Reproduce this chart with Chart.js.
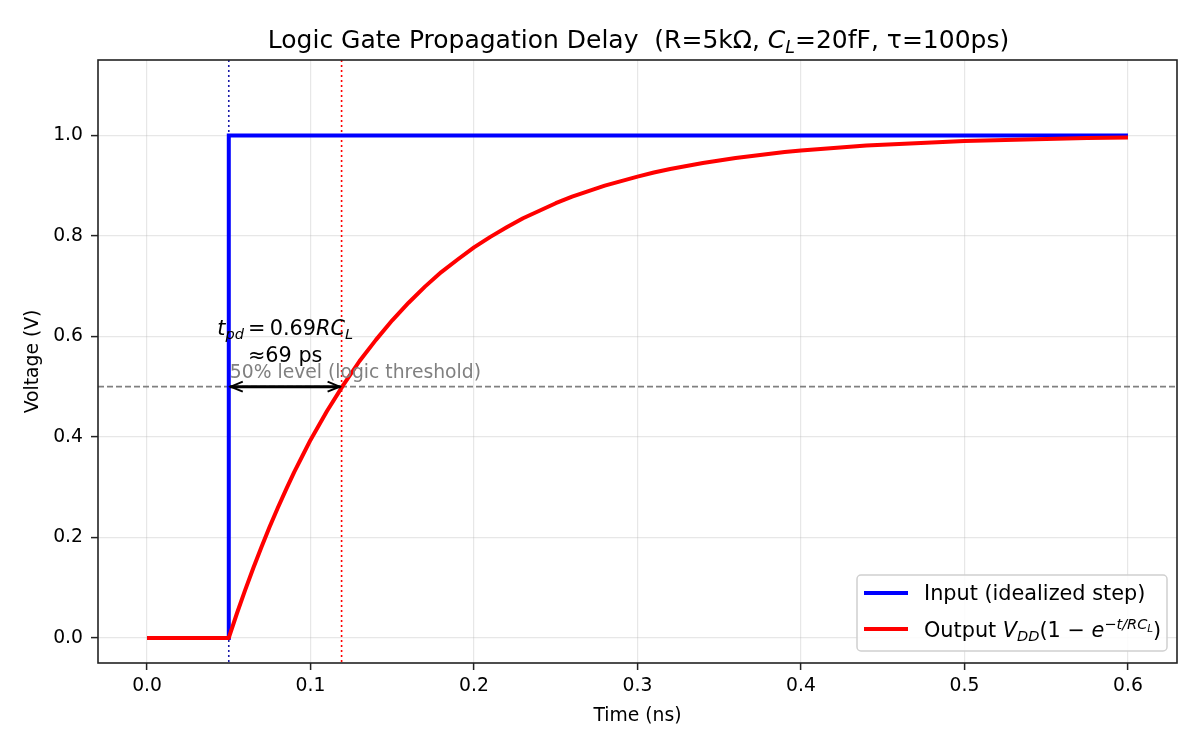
<!DOCTYPE html>
<html>
<head>
<meta charset="utf-8">
<script src="https://cdn.jsdelivr.net/npm/chart.js@4.4.0/dist/chart.umd.min.js"></script>
<style>html,body{margin:0;padding:0;background:#fff;}canvas{display:block;}</style>
</head>
<body>
<canvas id="c" width="1200" height="750"></canvas>
<script>
// ---- data ----
const inputTime = [0, 0.05, 0.05, 0.6];
const inputVolt = [0, 0, 1, 1];
const outputTime = [0, 0.05, 0.055, 0.06, 0.065, 0.07, 0.075, 0.08, 0.085, 0.09, 0.095, 0.10, 0.11, 0.12, 0.13, 0.14, 0.15, 0.16, 0.17, 0.18, 0.19, 0.20, 0.21, 0.22, 0.23, 0.24, 0.25, 0.26, 0.27, 0.28, 0.29, 0.30, 0.31, 0.32, 0.33, 0.34, 0.35, 0.36, 0.37, 0.38, 0.39, 0.40, 0.42, 0.44, 0.46, 0.48, 0.50, 0.525, 0.55, 0.575, 0.60];
const outputVolt = [0, 0, 0.049, 0.095, 0.139, 0.181, 0.221, 0.259, 0.295, 0.330, 0.362, 0.394, 0.451, 0.503, 0.551, 0.593, 0.632, 0.667, 0.699, 0.728, 0.753, 0.777, 0.798, 0.817, 0.835, 0.850, 0.865, 0.878, 0.889, 0.900, 0.909, 0.918, 0.926, 0.933, 0.939, 0.945, 0.950, 0.955, 0.959, 0.963, 0.967, 0.970, 0.975, 0.980, 0.983, 0.986, 0.989, 0.991, 0.993, 0.995, 0.996];
const xTicks = [0.0, 0.1, 0.2, 0.3, 0.4, 0.5, 0.6];
const yTicks = [0.0, 0.2, 0.4, 0.6, 0.8, 1.0];
const stepTime = 0.05;        // input switching time (ns)
const thresholdLevel = 0.5;   // 50% logic threshold (V)
const delayTime = 0.069;      // t_pd = 0.69 RC (ns)

const FONT = '"DejaVu Sans", sans-serif';

function drawRich(ctx, segs, x, y, align, baseSize, color) {
  let total = 0;
  const meas = segs.map(s => {
    ctx.font = (s.it ? 'italic ' : '') + (baseSize * (s.sc || 1)).toFixed(2) + 'px ' + FONT;
    const w = ctx.measureText(s.t).width + (s.gap || 0);
    total += w;
    return w;
  });
  let cx = align === 'center' ? x - total / 2 : (align === 'right' ? x - total : x);
  ctx.fillStyle = color;
  ctx.textBaseline = 'alphabetic';
  ctx.textAlign = 'left';
  segs.forEach((s, i) => {
    ctx.font = (s.it ? 'italic ' : '') + (baseSize * (s.sc || 1)).toFixed(2) + 'px ' + FONT;
    ctx.fillText(s.t, cx, y + (s.dy || 0) * baseSize);
    cx += meas[i];
  });
}

const overlay = {
  id: 'overlay',
  beforeDatasetsDraw(chart) {
    const ctx = chart.ctx, xs = chart.scales.x, ys = chart.scales.y, a = chart.chartArea;
    ctx.save();
    ctx.strokeStyle = '#808080';
    ctx.lineWidth = 1.6;
    ctx.setLineDash([6, 3]);
    const yt = ys.getPixelForValue(thresholdLevel);
    ctx.beginPath(); ctx.moveTo(a.left, yt); ctx.lineTo(a.right, yt); ctx.stroke();
    ctx.setLineDash([2, 3]);
    ctx.lineWidth = 1.6;
    ctx.strokeStyle = '#1a1aa8';
    let x1 = xs.getPixelForValue(stepTime);
    ctx.beginPath(); ctx.moveTo(x1, a.top); ctx.lineTo(x1, a.bottom); ctx.stroke();
    ctx.strokeStyle = '#ff0000';
    let x2 = xs.getPixelForValue(stepTime + delayTime);
    ctx.beginPath(); ctx.moveTo(x2, a.top); ctx.lineTo(x2, a.bottom); ctx.stroke();
    ctx.restore();
  },
  afterDatasetsDraw(chart) {
    const ctx = chart.ctx, xs = chart.scales.x, ys = chart.scales.y, a = chart.chartArea;
    ctx.save();
    const yt = ys.getPixelForValue(thresholdLevel);
    const x1 = xs.getPixelForValue(stepTime);
    const x2 = xs.getPixelForValue(stepTime + delayTime);
    ctx.font = '18.75px ' + FONT;
    ctx.fillStyle = '#808080';
    ctx.textAlign = 'left';
    ctx.textBaseline = 'alphabetic';
    ctx.fillText('50% level (logic threshold)', x1 + 1, yt - 9);
    ctx.strokeStyle = '#000';
    ctx.lineWidth = 3;
    ctx.setLineDash([]);
    ctx.beginPath(); ctx.moveTo(x1 + 1, yt); ctx.lineTo(x2 - 1, yt); ctx.stroke();
    ctx.lineWidth = 2;
    ctx.beginPath();
    ctx.moveTo(x1 + 14, yt - 5); ctx.lineTo(x1 + 2, yt); ctx.lineTo(x1 + 14, yt + 5);
    ctx.moveTo(x2 - 14, yt - 5); ctx.lineTo(x2 - 2, yt); ctx.lineTo(x2 - 14, yt + 5);
    ctx.stroke();
    const cx = (x1 + x2) / 2;
    drawRich(ctx, [
      {t: 't', it: true},
      {t: 'pd', it: true, sc: 0.7, dy: 0.2},
      {t: '\u2009=\u20090.69', it: false},
      {t: 'RC', it: true},
      {t: 'L', it: true, sc: 0.7, dy: 0.2}
    ], cx, yt - 52, 'center', 20.8, '#000');
    ctx.font = '20.8px ' + FONT;
    ctx.fillStyle = '#000';
    ctx.textAlign = 'center';
    ctx.fillText('\u224869 ps', cx, yt - 25);

    // legend
    const lx = 857, ly = 575, lw = 310, lh = 76;
    ctx.fillStyle = 'rgba(255,255,255,0.85)';
    ctx.strokeStyle = '#d0d0d0';
    ctx.lineWidth = 1.5;
    ctx.beginPath();
    ctx.roundRect(lx, ly, lw, lh, 4);
    ctx.fill(); ctx.stroke();
    ctx.lineWidth = 4;
    ctx.strokeStyle = '#0000ff';
    ctx.beginPath(); ctx.moveTo(864, 593); ctx.lineTo(908, 593); ctx.stroke();
    ctx.strokeStyle = '#ff0000';
    ctx.beginPath(); ctx.moveTo(864, 629); ctx.lineTo(908, 629); ctx.stroke();
    ctx.font = '20.8px ' + FONT;
    ctx.fillStyle = '#000';
    ctx.textAlign = 'left';
    ctx.fillText('Input (idealized step)', 924, 600);
    drawRich(ctx, [
      {t: 'Output ', it: false},
      {t: 'V', it: true},
      {t: 'DD', it: true, sc: 0.7, dy: 0.2},
      {t: '(1 \u2212 ', it: false},
      {t: 'e', it: true},
      {t: '\u2212t/RC', it: true, sc: 0.7, dy: -0.38},
      {t: 'L', it: true, sc: 0.5, dy: -0.25},
      {t: ')', it: false}
    ], 924, 637, 'left', 20.8, '#000');
    ctx.restore();
  },
  afterDraw(chart) {
    const ctx = chart.ctx, a = chart.chartArea;
    ctx.save();
    ctx.strokeStyle = '#222';
    ctx.lineWidth = 1.6;
    ctx.strokeRect(a.left, a.top, a.right - a.left, a.bottom - a.top);
    drawRich(ctx, [
      {t: 'Logic Gate Propagation Delay  (R=5k\u03A9, ', it: false},
      {t: 'C', it: true},
      {t: 'L', it: true, sc: 0.7, dy: 0.2},
      {t: '=20fF, \u03C4=100ps)', it: false}
    ], (a.left + a.right) / 2 + 1, 48, 'center', 25, '#000');
    ctx.font = '18.75px ' + FONT;
    ctx.fillStyle = '#000';
    ctx.textAlign = 'center';
    ctx.textBaseline = 'alphabetic';
    ctx.fillText('Time (ns)', (a.left + a.right) / 2, 721);
    ctx.save();
    ctx.translate(38, (a.top + a.bottom) / 2);
    ctx.rotate(-Math.PI / 2);
    ctx.fillText('Voltage (V)', 0, 0);
    ctx.restore();
    ctx.restore();
  }
};

const toPts = (xs, ys) => xs.map((x, i) => ({x: x, y: ys[i]}));

new Chart(document.getElementById('c'), {
  type: 'scatter',
  data: {
    datasets: [
      {
        label: 'Output',
        data: toPts(outputTime, outputVolt),
        showLine: true,
        borderColor: '#ff0000',
        borderWidth: 4,
        pointRadius: 0,
        tension: 0,
        borderJoinStyle: 'round',
        fill: false
      },
      {
        label: 'Input (idealized step)',
        data: toPts(inputTime, inputVolt),
        showLine: true,
        borderColor: '#0000ff',
        borderWidth: 4,
        pointRadius: 0,
        tension: 0,
        fill: false
      }
    ]
  },
  options: {
    responsive: false,
    devicePixelRatio: 1,
    animation: false,
    layout: {padding: {left: 0, right: 23, top: 60, bottom: 0}},
    plugins: {legend: {display: false}, tooltip: {enabled: false}, title: {display: false}},
    scales: {
      x: {
        type: 'linear',
        min: -0.03, max: 0.63,
        afterBuildTicks: s => { s.ticks = xTicks.map(v => ({value: v})); },
        afterFit: s => { s.height = 87; },
        ticks: {
          callback: v => Number(v).toFixed(1),
          font: {family: 'DejaVu Sans', size: 18.75},
          color: '#000',
          padding: 5,
          maxRotation: 0
        },
        grid: {color: 'rgba(176,176,176,0.3)', lineWidth: 1.2, tickColor: '#222', tickLength: 7, tickWidth: 1.5},
        border: {display: false}
      },
      y: {
        type: 'linear',
        min: -0.05, max: 1.15,
        afterBuildTicks: s => { s.ticks = yTicks.map(v => ({value: v})); },
        afterFit: s => { s.width = 98; },
        ticks: {
          callback: v => Number(v).toFixed(1),
          font: {family: 'DejaVu Sans', size: 18.75},
          color: '#000',
          padding: 8
        },
        grid: {color: 'rgba(176,176,176,0.3)', lineWidth: 1.2, tickColor: '#222', tickLength: 7, tickWidth: 1.5},
        border: {display: false}
      }
    }
  },
  plugins: [overlay]
});
</script>
</body>
</html>
